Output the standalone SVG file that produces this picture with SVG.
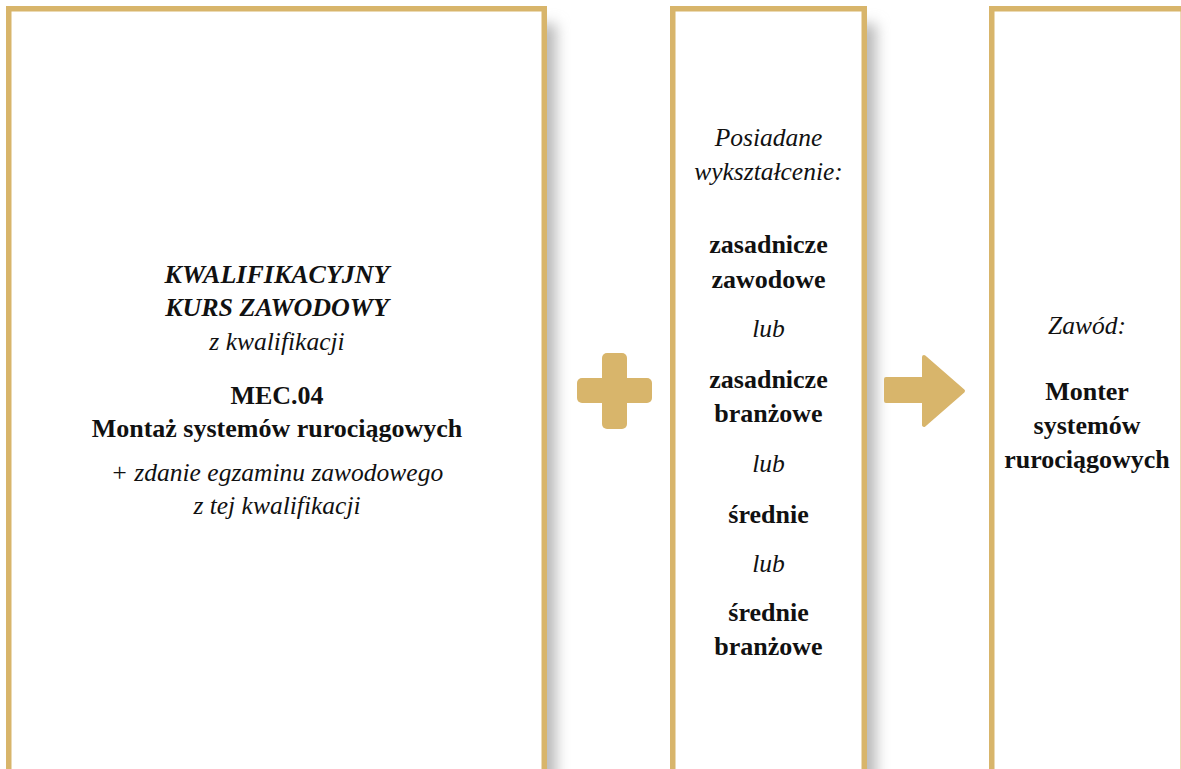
<svg xmlns="http://www.w3.org/2000/svg" width="1181" height="769" viewBox="0 0 1181 769">
  <defs>
    <filter id="shadow" x="-2" y="-0.2" width="5" height="1.4">
      <feGaussianBlur stdDeviation="7"/>
    </filter>
  </defs>
  <style>
    .box { fill: #ffffff; stroke: #d8b56b; stroke-width: 5.5; }
    .shd { fill: #b8b8b8; filter: url(#shadow); }
    .gold { fill: #d8b56b; }
    text { font-family: "Liberation Serif", "Times New Roman", serif; font-size: 26px; fill: #111111; text-anchor: middle; }
    .i { font-style: italic; font-size: 25.5px; }
    .b { font-weight: bold; }
    .bi { font-weight: bold; font-style: italic; }
  </style>
  <rect width="1181" height="769" fill="#ffffff"/>

  <g id="box1">
    <rect class="shd" x="534" y="24" width="22" height="800"/>
    <rect class="box" x="8.75" y="8.75" width="535.5" height="800"/>
    <text class="bi" x="277" y="283">KWALIFIKACYJNY</text>
    <text class="bi" x="277" y="316">KURS ZAWODOWY</text>
    <text class="i" x="277" y="350">z kwalifikacji</text>
    <text class="b" x="277" y="404">MEC.04</text>
    <text class="b" x="277" y="437">Montaż systemów rurociągowych</text>
    <text class="i" x="277" y="481">+ zdanie egzaminu zawodowego</text>
    <text class="i" x="277" y="514">z tej kwalifikacji</text>
  </g>

  <g id="box2">
    <rect class="shd" x="854" y="24" width="22" height="800"/>
    <rect class="box" x="672.75" y="8.75" width="191.5" height="800"/>
    <text class="i" x="768.5" y="146">Posiadane</text>
    <text class="i" x="768.5" y="180">wykształcenie:</text>
    <text class="b" x="768.5" y="253">zasadnicze</text>
    <text class="b" x="768.5" y="288">zawodowe</text>
    <text class="i" x="768.5" y="337">lub</text>
    <text class="b" x="768.5" y="388">zasadnicze</text>
    <text class="b" x="768.5" y="422">branżowe</text>
    <text class="i" x="768.5" y="472">lub</text>
    <text class="b" x="768.5" y="523">średnie</text>
    <text class="i" x="768.5" y="572">lub</text>
    <text class="b" x="768.5" y="621">średnie</text>
    <text class="b" x="768.5" y="655">branżowe</text>
  </g>

  <g id="box3">
    <rect class="box" x="991.75" y="8.75" width="191.5" height="800"/>
    <text class="i" x="1087" y="334">Zawód:</text>
    <text class="b" x="1087" y="400">Monter</text>
    <text class="b" x="1087" y="434">systemów</text>
    <text class="b" x="1087" y="468">rurociągowych</text>
  </g>

  <g id="connectors">
    <g id="plus">
      <rect class="gold" x="577" y="378" width="75" height="25" rx="5"/>
      <rect class="gold" x="602" y="353" width="25" height="76" rx="5"/>
    </g>
    <g id="arrow">
      <path class="gold" d="M886,379 H924 V357 L963,391 L924,425 V401 H886 Z" stroke="#d8b56b" stroke-width="4" stroke-linejoin="round"/>
    </g>
  </g>
</svg>
